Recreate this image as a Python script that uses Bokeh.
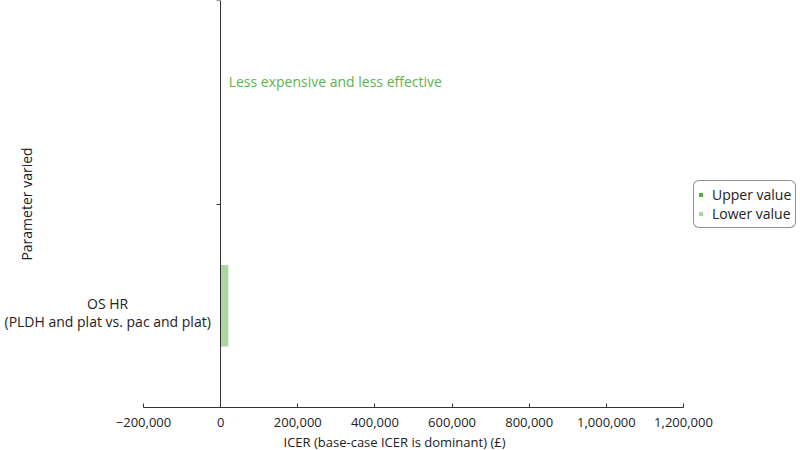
from math import pi
from bokeh.plotting import figure
from bokeh.models import (Range1d, FixedTicker, Label, Legend, LegendItem,
                          ColumnDataSource)
from bokeh.embed import file_html
from bokeh.resources import INLINE

# ---- data ----
parameters = ["OS HR\n(PLDH and plat vs. pac and plat)"]
param_pos = [0.5]
base_icer = [0]
upper_values = [0]
lower_values = [20000]
x_ticks = [-200000, 0, 200000, 400000, 600000, 800000, 1000000, 1200000]
x_tick_labels = ["\u2212200,000", "0", "200,000", "400,000", "600,000",
                 "800,000", "1,000,000", "1,200,000"]
y_ticks = [0, 1, 2]
quadrant_note = "Less expensive and less effective"
x_title = "ICER (base-case ICER is dominant) (\u00a3)"
y_title = "Parameter varied"

FONT = "Open Sans"
C_UPPER = "#4fae45"
C_LOWER = "#a9d79f"
C_NOTE = "#5bb54a"
C_AXIS = "#333333"
C_TEXT = "#222222"

W, H = 800, 450
# pixel layout of the axes box inside the canvas
AX_L, AX_R, AX_T, AX_B = 143, 683, 0, 407
xmin, xmax = x_ticks[0], x_ticks[-1]
ymin, ymax = y_ticks[0], y_ticks[-1]
sx = (xmax - xmin) / (AX_R - AX_L)
sy = (ymax - ymin) / (AX_B - AX_T)
x_range = Range1d(xmin - AX_L * sx, xmax + (W - AX_R) * sx)
y_range = Range1d(ymin - (H - AX_B) * sy, ymax + AX_T * sy)

p = figure(width=W, height=H, output_backend="svg", toolbar_location=None,
           x_range=x_range, y_range=y_range,
           min_border_left=0, min_border_right=0, min_border_top=0,
           min_border_bottom=0)
p.outline_line_color = None
p.xgrid.visible = False
p.ygrid.visible = False
p.background_fill_color = "white"

src = ColumnDataSource(dict(y=param_pos, base=base_icer,
                            upper=upper_values, lower=lower_values))
r_upper = p.hbar(y="y", left="base", right="upper", height=0.4, source=src,
                 fill_color=C_UPPER, line_color=None)
r_lower = p.hbar(y="y", left="base", right="lower", height=0.4, source=src,
                 fill_color=C_LOWER, line_color=None)

# x axis at y = 0
xa = p.xaxis[0]
xa.fixed_location = ymin
xa.bounds = (xmin, xmax)
xa.ticker = FixedTicker(ticks=x_ticks)
xa.major_label_overrides = {t: l for t, l in zip(x_ticks, x_tick_labels)}
xa.major_label_text_font = FONT
xa.major_label_text_font_size = "13px"
xa.major_label_text_color = C_TEXT
xa.major_label_standoff = 10
xa.major_tick_in = 4
xa.major_tick_out = 0
xa.minor_tick_line_color = None
xa.axis_line_color = C_AXIS
xa.major_tick_line_color = C_AXIS

# x title (centred on the figure as in the reference)
p.add_layout(Label(x=xmin, y=ymin, x_offset=251, y_offset=-34, text=x_title,
                   text_align="center", text_baseline="middle",
                   text_font=FONT, text_font_size="13px", text_color=C_TEXT))

# y axis drawn at x = 0
ya = p.yaxis[0]
ya.fixed_location = 0
ya.bounds = (ymin, ymax)
ya.ticker = FixedTicker(ticks=y_ticks)
ya.major_label_overrides = {t: "" for t in y_ticks}
ya.major_label_text_font_size = "1px"
ya.major_tick_in = 0
ya.major_tick_out = 4
ya.minor_tick_line_color = None
ya.axis_line_color = C_AXIS
ya.major_tick_line_color = C_AXIS

# category label
for name, pos in zip(parameters, param_pos):
    p.add_layout(Label(x=0, y=pos, x_offset=-113, y_offset=-7, text=name,
                       text_align="center", text_baseline="middle",
                       text_font=FONT, text_font_size="14px",
                       text_line_height=0.95, text_color=C_TEXT))

# y title
p.add_layout(Label(x=0, y=(ymin + ymax) / 2, x_offset=-194, text=y_title,
                   angle=pi / 2, text_align="center", text_baseline="middle",
                   text_font=FONT, text_font_size="14px", text_color=C_TEXT))

# quadrant note
p.add_layout(Label(x=0, y=1.6, x_offset=8, text=quadrant_note,
                   text_align="left", text_baseline="middle",
                   text_font=FONT, text_font_size="14px",
                   text_color=C_NOTE))

legend = Legend(items=[LegendItem(label="Upper value", renderers=[r_upper]),
                       LegendItem(label="Lower value", renderers=[r_lower])],
                location=(693, H - 228))
legend.label_text_font = FONT
legend.label_text_font_size = "14px"
legend.label_text_color = C_TEXT
legend.glyph_width = 5
legend.glyph_height = 5
legend.label_standoff = 9
legend.label_height = 16
legend.spacing = 0
legend.padding = 4
legend.margin = 0
legend.border_line_color = C_TEXT
legend.border_line_width = 1
if "border_radius" in Legend.properties():
    legend.border_radius = 6
p.add_layout(legend, "center")

open("out.html", "w").write(file_html(p, INLINE))
